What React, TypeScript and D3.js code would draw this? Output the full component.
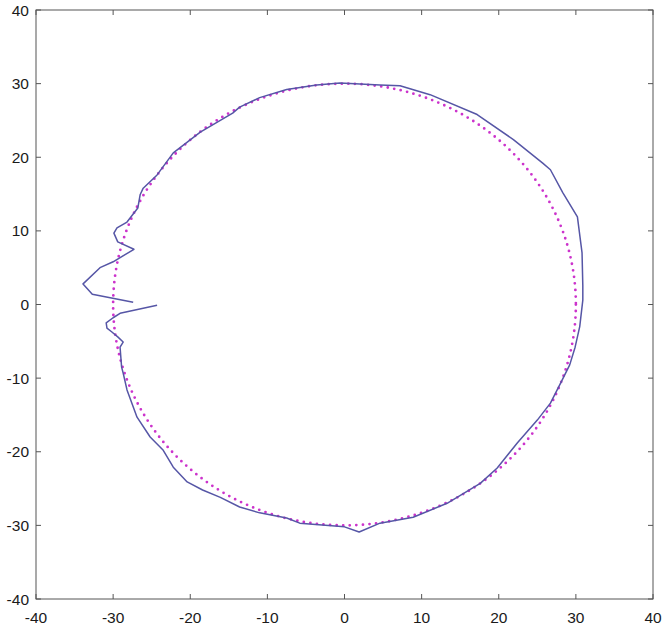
import React from "react";
import * as d3 from "d3";

// measured contour (x, y), traced from the inner end of the upper spur round to the lower spur
const contourX = [
  -27.4, -32.7, -33.9, -31.7, -30, -27.3, -29.4, -29.9, -29.5, -28.2, -26.8, -26.5, -26.1,
  -24.3, -22.2, -18.7, -14.5, -13.6, -11, -7.5, -3.6, -0.6, 4.6, 7.2, 11.1, 17.2, 21.9, 25.7,
  26.7, 28.3, 30.2, 30.8, 30.9, 30.9, 30.5, 29.9, 29.2, 28.2, 26.7, 25, 22.4, 19.8, 17.6, 13.3,
  8.9, 4.6, 1.9, 0, -5.8, -7.5, -11, -13.6, -16.1, -18.4, -20.4, -22.2, -23.5, -25.2, -26.9,
  -28.2, -28.7, -28.9, -29.1, -28.7, -29.4, -30.2, -30.8, -30.9, -30, -29.1, -24.3,
];
const contourY = [
  0.3, 1.4, 2.8, 5, 5.8, 7.5, 8.5, 9.7, 10.4, 11.2, 13.1, 14.9, 15.8,
  17.6, 20.6, 23.4, 26, 26.8, 28.1, 29.2, 29.8, 30.1, 29.8, 29.7, 28.5, 25.8, 22.4, 19.2,
  18.3, 15.2, 11.9, 7, 2.6, 0.6, -3, -5.8, -8.2, -10.3, -13.4, -15.7, -18.8, -22.2, -24.3, -27,
  -28.9, -29.7, -30.9, -30.2, -29.7, -29, -28.3, -27.5, -26.2, -25.2, -24.1, -22.1, -19.8, -18, -15.3,
  -11.6, -9.3, -8.5, -5.8, -5.1, -4.4, -3.7, -3.2, -2.5, -1.8, -1.2, -0.1,
];
const refRadius = 30;
const ticks = [-40, -30, -20, -10, 0, 10, 20, 30, 40];

const W = 667;
const H = 629;
const L = 36, R = 653, T = 10, B = 599;

export default function App() {
  const x = d3.scaleLinear().domain([-40, 40]).range([L, R]);
  const y = d3.scaleLinear().domain([-40, 40]).range([B, T]);
  const pts: [number, number][] = contourX.map((v, i) => [v, contourY[i]]);
  const line = d3
    .line<[number, number]>()
    .x((d) => x(d[0]))
    .y((d) => y(d[1]))
    .curve(d3.curveLinear);
  const font = "'Liberation Sans', Arial, sans-serif";
  const axisColor = "#555";
  return (
    <svg
      width={W}
      height={H}
      style={{ position: "absolute", left: 0, top: 0, background: "#fff" }}
    >
      <ellipse
        cx={x(0)}
        cy={y(0)}
        rx={x(refRadius) - x(0)}
        ry={y(0) - y(refRadius)}
        fill="none"
        stroke="#cc33cc"
        strokeWidth={2.8}
        strokeDasharray="0 6.6"
        strokeLinecap="round"
      />
      <path d={line(pts) || ""} fill="none" stroke="#5656a6" strokeWidth={1.5} strokeLinejoin="round" />
      <rect x={L} y={T} width={R - L} height={B - T} fill="none" stroke={axisColor} strokeWidth={1} />
      {ticks.map((t) => (
        <g key={"x" + t}>
          <line x1={x(t)} x2={x(t)} y1={B} y2={B - 5} stroke={axisColor} />
          <line x1={x(t)} x2={x(t)} y1={T} y2={T + 5} stroke={axisColor} />
          <text
            x={x(t)}
            y={B + 24}
            textAnchor="middle"
            fontFamily={font}
            fontSize={15.5}
            fill="#1a1a1a"
          >
            {t}
          </text>
        </g>
      ))}
      {ticks.map((t) => (
        <g key={"y" + t}>
          <line x1={L} x2={L + 5} y1={y(t)} y2={y(t)} stroke={axisColor} />
          <line x1={R} x2={R - 5} y1={y(t)} y2={y(t)} stroke={axisColor} />
          <text
            x={L - 7}
            y={y(t) + 5.5}
            textAnchor="end"
            fontFamily={font}
            fontSize={15.5}
            fill="#1a1a1a"
          >
            {t}
          </text>
        </g>
      ))}
    </svg>
  );
}
